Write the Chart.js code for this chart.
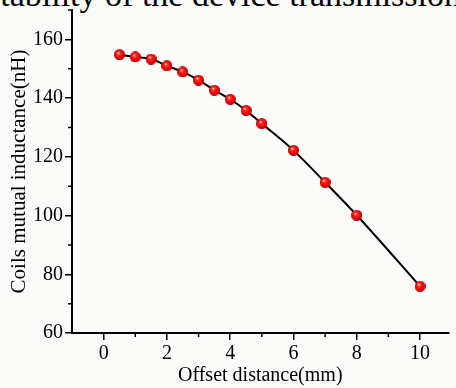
<!DOCTYPE html>
<html>
<head>
<meta charset="utf-8">
<script src="https://cdn.jsdelivr.net/npm/chart.js@4"></script>
<style>
html, body { margin: 0; padding: 0; background: #fbfbf9; overflow: hidden; }
#wrap { position: relative; width: 456px; height: 388px; overflow: hidden; }
#cap { position: absolute; left: -13px; top: -22px; font: 34px "Liberation Serif"; line-height: 34px; white-space: nowrap; color: #000; }
#myChart { position: absolute; left: 0; top: 0; }
</style>
</head>
<body>
<div id="wrap">
  <div id="cap">stability of the device transmission</div>
  <canvas id="myChart" width="456" height="388"></canvas>
</div>
<script>
// data
const offset = [0.5, 1, 1.5, 2, 2.5, 3, 3.5, 4, 4.5, 5, 6, 7, 8, 10];
const inductance = [154.8, 154.0, 153.3, 151.0, 148.9, 146.1, 142.7, 139.6, 135.8, 131.3, 122.2, 111.3, 100.1, 75.9];
const xTicks = [0, 2, 4, 6, 8, 10];
const xMinor = [1, 3, 5, 7, 9];
const yTicks = [60, 80, 100, 120, 140, 160];
const yMinor = [70, 90, 110, 130, 150, 170];

const serif = 'Liberation Serif';

// red ball used as point marker
function sphere(r) {
    const c = document.createElement('canvas');
    c.width = c.height = 2 * r;
    const g = c.getContext('2d');
    const gr = g.createRadialGradient(r * 0.75, r * 0.65, 0.3, r, r, r);
    gr.addColorStop(0, '#ffe0e0');
    gr.addColorStop(0.25, '#ff3030');
    gr.addColorStop(0.7, '#f00000');
    gr.addColorStop(1, '#b00000');
    g.fillStyle = gr;
    g.beginPath();
    g.arc(r, r, r, 0, Math.PI * 2);
    g.fill();
    return c;
}

// short minor tick marks
const minorTicks = {
    id: 'minorTicks',
    afterDraw(chart) {
        const ctx = chart.ctx;
        const x = chart.scales.x, y = chart.scales.y;
        ctx.save();
        ctx.strokeStyle = '#000';
        ctx.lineWidth = 1.5;
        ctx.beginPath();
        xMinor.forEach(v => {
            const px = x.getPixelForValue(v);
            ctx.moveTo(px, x.top);
            ctx.lineTo(px, x.top + 4);
        });
        yMinor.forEach(v => {
            const py = y.getPixelForValue(v);
            ctx.moveTo(y.right, py);
            ctx.lineTo(y.right - 4, py);
        });
        ctx.stroke();
        ctx.restore();
    }
};

const points = offset.map((v, i) => ({x: v, y: inductance[i]}));

const ctx = document.getElementById('myChart').getContext('2d');
const myChart = new Chart(ctx, {
    type: 'scatter',
    data: {
        datasets: [{
            data: points,
            showLine: true,
            borderColor: '#000',
            borderWidth: 2,
            cubicInterpolationMode: 'monotone',
            pointStyle: sphere(5.5),
            pointRadius: 5.5
        }]
    },
    options: {
        responsive: false,
        animation: false,
        layout: { padding: { top: 10, left: 0, right: 0, bottom: 0 } },
        plugins: { legend: { display: false }, tooltip: { enabled: false } },
        scales: {
            x: {
                type: 'linear',
                min: -1,
                max: 10.9,
                afterBuildTicks: s => { s.ticks = xTicks.map(v => ({value: v})); },
                afterFit: s => { s.height = 55; s.paddingLeft = 0; s.paddingRight = 0; },
                ticks: { color: '#000', font: { family: serif, size: 20 }, padding: 2, maxRotation: 0 },
                grid: { drawOnChartArea: false, color: '#000', lineWidth: 1.5, tickLength: 7 },
                border: { color: '#000', width: 2 },
                title: { display: true, text: 'Offset distance(mm)', color: '#000', font: { family: serif, size: 20 }, padding: { top: 0, bottom: 0 } }
            },
            y: {
                min: 60,
                max: 170,
                afterBuildTicks: s => { s.ticks = yTicks.map(v => ({value: v})); },
                afterFit: s => { s.width = 72; s.paddingTop = 0; s.paddingBottom = 0; },
                ticks: { color: '#000', font: { family: serif, size: 20 }, padding: 2 },
                grid: { drawOnChartArea: false, color: '#000', lineWidth: 1.5, tickLength: 7 },
                border: { color: '#000', width: 2 },
                title: { display: true, text: 'Coils mutual inductance(nH)', color: '#000', font: { family: serif, size: 21 }, padding: { top: 7, bottom: 0 } }
            }
        }
    },
    plugins: [minorTicks]
});
</script>
</body>
</html>
